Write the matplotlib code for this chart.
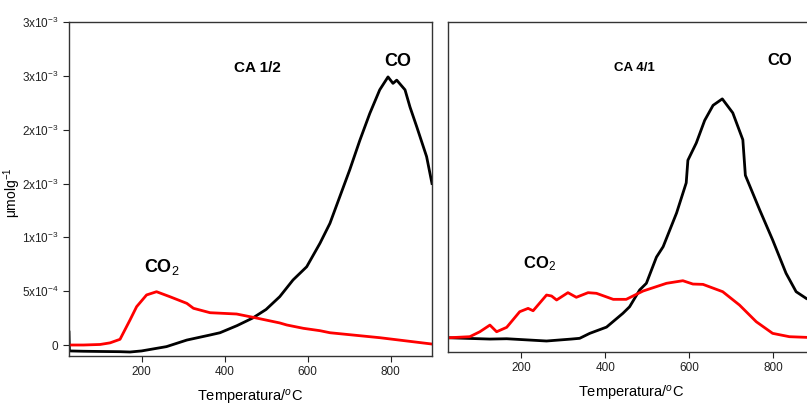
import matplotlib
matplotlib.use("Agg")
import matplotlib.pyplot as plt
import numpy as np

plt.rcParams['font.family'] = ['Liberation Sans', 'DejaVu Sans']
plt.rcParams['mathtext.fontset'] = 'custom'
plt.rcParams['mathtext.rm'] = 'Liberation Sans'
plt.rcParams['mathtext.it'] = 'Liberation Sans:italic'
plt.rcParams['mathtext.bf'] = 'Liberation Sans:bold'

# CA 1/2 : CO (preto) e CO2 (vermelho)
t_co_12 = [25, 26, 60, 100, 148, 172, 200, 227, 260, 309, 365, 389, 430, 468, 500, 533,
           565, 598, 630, 654, 678, 702, 726, 750, 774, 794, 806, 815, 835, 847, 863, 887, 900]
co_12 = [1.2e-4, -5.5e-5, -5.8e-5, -6.0e-5, -6.2e-5, -6.5e-5, -5.5e-5, -3.7e-5, -1.5e-5,
         4.6e-5, 9.3e-5, 1.14e-4, 1.8e-4, 2.51e-4, 3.3e-4, 4.49e-4,
         6.04e-4, 7.27e-4, 9.45e-4, 1.13e-3, 1.38e-3, 1.63e-3, 1.90e-3, 2.15e-3, 2.37e-3,
         2.49e-3, 2.43e-3, 2.46e-3, 2.37e-3, 2.21e-3, 2.03e-3, 1.75e-3, 1.50e-3]

t_co2_12 = [25, 60, 100, 124, 148, 172, 188, 212, 236, 268, 309, 325, 365, 429, 469,
            533, 550, 590, 630, 654, 774, 900]
co2_12 = [0.0, 0.0, 5e-6, 2e-5, 5.3e-5, 2.32e-4, 3.56e-4, 4.65e-4, 4.95e-4, 4.49e-4,
          3.87e-4, 3.41e-4, 3.00e-4, 2.88e-4, 2.57e-4, 2.05e-4, 1.86e-4, 1.55e-4,
          1.33e-4, 1.14e-4, 6.8e-5, 9e-6]

# CA 4/1
t_co_41 = [26, 125, 165, 260, 319, 339, 363, 403, 442, 458, 482, 498, 522, 538, 570, 593,
           597, 617, 637, 657, 679, 704, 728, 734, 768, 799, 831, 855, 879]
co_41 = [2.1e-5, 9e-6, 1.2e-5, -9e-6, 9e-6, 1.6e-5, 6.2e-5, 1.2e-4, 2.48e-4, 3.09e-4,
         4.65e-4, 5.27e-4, 7.7e-4, 8.67e-4, 1.18e-3, 1.46e-3, 1.67e-3, 1.83e-3, 2.04e-3,
         2.18e-3, 2.24e-3, 2.11e-3, 1.86e-3, 1.53e-3, 1.21e-3, 9.3e-4, 6.2e-4, 4.49e-4,
         3.87e-4]

t_co2_41 = [26, 77, 101, 125, 141, 165, 196, 216, 228, 260, 272, 284, 311, 331, 359, 379,
            419, 450, 490, 546, 585, 609, 633, 680, 720, 760, 799, 839, 879]
co2_41 = [2.1e-5, 3.1e-5, 7.7e-5, 1.39e-4, 7.7e-5, 1.18e-4, 2.63e-4, 2.94e-4, 2.72e-4,
          4.18e-4, 4.09e-4, 3.72e-4, 4.40e-4, 3.97e-4, 4.40e-4, 4.34e-4, 3.78e-4, 3.78e-4,
          4.55e-4, 5.27e-4, 5.51e-4, 5.2e-4, 5.17e-4, 4.49e-4, 3.25e-4, 1.7e-4, 6.2e-5,
          3.1e-5, 2.5e-5]

yticks = [0, 5e-4, 1e-3, 1.5e-3, 2e-3, 2.5e-3, 3e-3]
ytick_labels = ["0", r"5x10$^{-4}$", r"1x10$^{-3}$", r"2x10$^{-3}$", r"2x10$^{-3}$",
                r"3x10$^{-3}$", r"3x10$^{-3}$"]
xticks = [200, 400, 600, 800]

fig = plt.figure(figsize=(8.07, 4.09), dpi=100)
ax1 = fig.add_axes([0.0855, 0.1296, 0.4498, 0.8166])
ax2 = fig.add_axes([0.5551, 0.1394, 0.4548, 0.8068])

lw = 2.0
ax1.plot(t_co_12, co_12, color='black', lw=lw, solid_joinstyle='round')
ax1.plot(t_co2_12, co2_12, color='#ff0000', lw=lw, solid_joinstyle='round')
ax1.set_xlim(25, 900)
ax1.set_ylim(-1.02e-4, 3.0e-3)
ax1.set_yticks(yticks)
ax1.set_yticklabels(ytick_labels)
ax1.set_ylabel("μmolg$^{-1}$", fontsize=10)
ax1.yaxis.set_label_coords(-0.128, 0.49)
ax1.text(480, 2.57e-3, "CA 1/2", fontsize=11, fontweight='bold', ha='center', va='center')
ax1.text(818, 2.63e-3, "CO", fontsize=13, fontweight='bold', ha='center', va='center')
ax1.text(249, 7.2e-4, r"CO$_2$", fontsize=13, fontweight='bold', ha='center', va='center')

ax2.plot(t_co_41, co_41, color='black', lw=lw, solid_joinstyle='round')
ax2.plot(t_co2_41, co2_41, color='#ff0000', lw=lw, solid_joinstyle='round')
ax2.set_xlim(25, 900)
ax2.set_ylim(-1.11e-4, 2.954e-3)
ax2.set_yticks([])
ax2.text(470, 2.53e-3, "CA 4/1", fontsize=9.5, fontweight='bold', ha='center', va='center')
ax2.text(815, 2.6e-3, "CO", fontsize=12, fontweight='bold', ha='center', va='center')
ax2.text(244, 7.1e-4, r"CO$_2$", fontsize=12, fontweight='bold', ha='center', va='center')

for ax in (ax1, ax2):
    ax.set_xticks(xticks)
    ax.set_xlabel(r"Temperatura/$^{o}$C", fontsize=10.5, labelpad=7)
    ax.tick_params(direction='out', length=4, width=0.8, labelsize=8.5, colors='#222222')
    for s in ax.spines.values():
        s.set_linewidth(1.0)
        s.set_color('#333333')

fig.savefig("out.png", dpi=100)
